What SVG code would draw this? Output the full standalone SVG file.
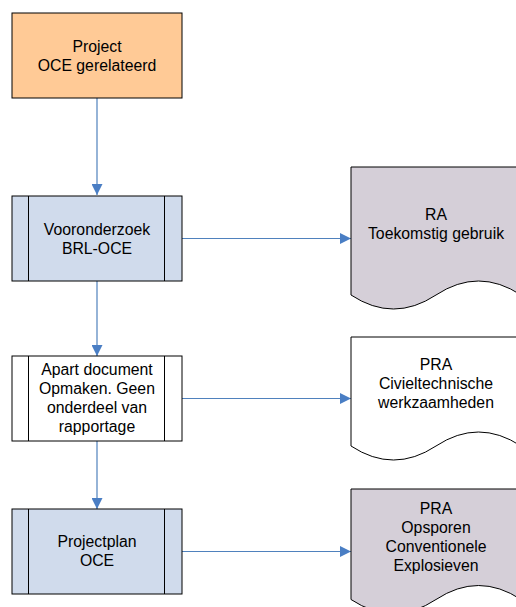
<svg xmlns="http://www.w3.org/2000/svg" width="516" height="607" viewBox="0 0 516 607">
<style>
text{font-family:"Liberation Sans",Arial,sans-serif;font-size:15.8px;fill:#000;text-anchor:middle}
.box{stroke:#000;stroke-width:1}
.proc{fill:#D0DBEC}
.start{fill:#FFCA96}
.white{fill:#FFFFFF}
.doc{fill:#D5CFD8}
.edge{fill:none;stroke:#4F81BD;stroke-width:1.2}
.inner{stroke:#000;stroke-width:1}
</style>
<defs>
<marker id="arr" markerUnits="userSpaceOnUse" markerWidth="11" markerHeight="11" viewBox="0 0 10 10" refX="10" refY="5" orient="auto">
<path d="M0,0 L10,5 L0,10 Z" fill="#4A7EC4"/>
</marker>
</defs>
<rect width="516" height="607" fill="#fff"/>
<g id="connectors">
<line class="edge" x1="97" y1="98" x2="97" y2="195" marker-end="url(#arr)"/>
<line class="edge" x1="97" y1="281" x2="97" y2="356" marker-end="url(#arr)"/>
<line class="edge" x1="97" y1="441" x2="97" y2="509" marker-end="url(#arr)"/>
<line class="edge" x1="182" y1="238.5" x2="351" y2="238.5" marker-end="url(#arr)"/>
<line class="edge" x1="182" y1="398.5" x2="351" y2="398.5" marker-end="url(#arr)"/>
<line class="edge" x1="182" y1="551.5" x2="351" y2="551.5" marker-end="url(#arr)"/>
</g>
<g id="project">
<rect class="box start" x="12" y="13" width="170" height="85"/>
<text x="97" y="51.5">Project</text>
<text x="97" y="70.5">OCE gerelateerd</text>
</g>
<g id="vooronderzoek">
<rect class="box proc" x="12" y="196" width="170" height="85"/>
<line class="inner" x1="28.5" y1="196" x2="28.5" y2="281"/>
<line class="inner" x1="164.5" y1="196" x2="164.5" y2="281"/>
<text x="97" y="235">Vooronderzoek</text>
<text x="97" y="254">BRL-OCE</text>
</g>
<g id="apart">
<rect class="box white" x="12" y="356" width="170" height="85"/>
<line class="inner" x1="28.5" y1="356" x2="28.5" y2="441"/>
<line class="inner" x1="164.5" y1="356" x2="164.5" y2="441"/>
<text x="97" y="375">Apart document</text>
<text x="97" y="394">Opmaken. Geen</text>
<text x="97" y="413">onderdeel van</text>
<text x="97" y="432">rapportage</text>
</g>
<g id="projectplan">
<rect class="box proc" x="12" y="509" width="170" height="85"/>
<line class="inner" x1="28.5" y1="509" x2="28.5" y2="594"/>
<line class="inner" x1="164.5" y1="509" x2="164.5" y2="594"/>
<text x="97" y="547.3">Projectplan</text>
<text x="97" y="566">OCE</text>
</g>
<g id="ra">
<path class="box doc" d="M351,167 H521 V295 Q478.5,267 436,295 T351,295 Z"/>
<text x="436" y="220">RA</text>
<text x="436" y="239">Toekomstig gebruik</text>
</g>
<g id="pra-civiel">
<path class="box white" d="M351,337 H521 V446 Q478.5,418 436,446 T351,446 Z"/>
<text x="436" y="369.5">PRA</text>
<text x="436" y="389">Civieltechnische</text>
<text x="436" y="408.3">werkzaamheden</text>
</g>
<g id="pra-opsporen">
<path class="box doc" d="M351,489 H521 V599.5 Q478.5,571.5 436,599.5 T351,599.5 Z"/>
<text x="436" y="513.5">PRA</text>
<text x="436" y="532.5">Opsporen</text>
<text x="436" y="551.5">Conventionele</text>
<text x="436" y="570.5">Explosieven</text>
</g>
</svg>
